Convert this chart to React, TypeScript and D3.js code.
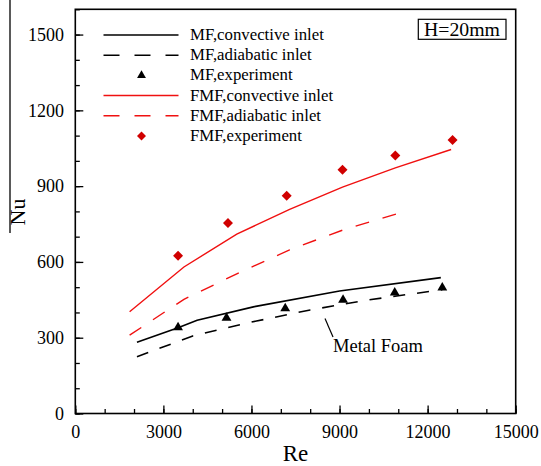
import { useEffect, useRef } from "react";
import * as d3 from "d3";

// values (Re, Nu)
const mf_conv_re = [2100, 3500, 4150, 6100, 9000, 12450];
const mf_conv_nu = [282, 339, 369, 423, 485, 538];
const mf_adia_re = [2100, 4000, 6000, 8000, 10000, 12500];
const mf_adia_nu = [225, 307, 362, 410, 450, 490];
const mf_exp_re = [3500, 5150, 7150, 9120, 10880, 12500];
const mf_exp_nu = [341, 378, 416, 450, 478, 498];
const fmf_conv_re = [1850, 3700, 5500, 7300, 9100, 10900, 12800];
const fmf_conv_nu = [403, 580, 710, 808, 896, 972, 1045];
const fmf_adia_re = [1850, 3700, 5500, 7300, 9200, 11000];
const fmf_adia_nu = [310, 452, 553, 648, 730, 792];
const fmf_exp_re = [3500, 5200, 7200, 9100, 10900, 12850];
const fmf_exp_nu = [624, 754, 862, 965, 1021, 1083];

const legend_labels = [
    "MF,convective inlet",
    "MF,adiabatic inlet",
    "MF,experiment",
    "FMF,convective inlet",
    "FMF,adiabatic inlet",
    "FMF,experiment"
];

const x_ticks = [0, 3000, 6000, 9000, 12000, 15000];
const y_ticks = [0, 300, 600, 900, 1200, 1500];

export default function App() {
    const ref = useRef<SVGSVGElement>(null);

    useEffect(() => {
        const svg = d3.select(ref.current);
        svg.selectAll("*").remove();

        const font = "'Liberation Serif', 'Times New Roman', serif";
        const red = "#f01010";
        const dark_red = "#d00000";

        // scales
        const x_scale = d3.scaleLinear().domain([0, 15000]).range([75.3, 515.7]);
        const y_scale = d3.scaleLinear().domain([0, 1600]).range([413.5, 9.3]);

        // minor ticks
        svg.append("g")
            .attr("transform", "translate(0," + y_scale(0) + ")")
            .call(d3.axisBottom(x_scale).tickValues(d3.range(0, 15001, 1000)).tickSize(-4.5).tickSizeOuter(0).tickFormat(() => ""))
            .call(g => g.select(".domain").remove());
        svg.append("g")
            .attr("transform", "translate(" + x_scale(0) + ",0)")
            .call(d3.axisLeft(y_scale).tickValues(d3.range(0, 1601, 100)).tickSize(-4.5).tickSizeOuter(0).tickFormat(() => ""))
            .call(g => g.select(".domain").remove());

        // major ticks + labels
        const x_axis = svg.append("g")
            .attr("transform", "translate(0," + y_scale(0) + ")")
            .call(d3.axisBottom(x_scale).tickValues(x_ticks).tickSize(-8).tickSizeOuter(0).tickPadding(11.5).tickFormat(d3.format("d")));
        x_axis.select(".domain").remove();
        x_axis.selectAll("text").attr("font-family", font).attr("font-size", 18).attr("fill", "#000");

        const y_axis = svg.append("g")
            .attr("transform", "translate(" + x_scale(0) + ",0)")
            .call(d3.axisLeft(y_scale).tickValues(y_ticks).tickSize(-8).tickSizeOuter(0).tickPadding(11.3).tickFormat(d3.format("d")));
        y_axis.select(".domain").remove();
        y_axis.selectAll("text").attr("font-family", font).attr("font-size", 18).attr("fill", "#000");

        svg.selectAll(".tick line").attr("stroke", "#000").attr("stroke-width", 1.3);

        // frame
        svg.append("rect")
            .attr("x", x_scale(0))
            .attr("y", y_scale(1600))
            .attr("width", x_scale(15000) - x_scale(0))
            .attr("height", y_scale(0) - y_scale(1600))
            .attr("fill", "none")
            .attr("stroke", "#000")
            .attr("stroke-width", 1.6);

        // axis titles
        svg.append("text")
            .attr("x", x_scale(7500))
            .attr("y", 461)
            .attr("text-anchor", "middle")
            .attr("font-family", font)
            .attr("font-size", 23)
            .text("Re");

        svg.append("text")
            .attr("transform", "translate(25,212) rotate(-90)")
            .attr("text-anchor", "middle")
            .attr("font-family", font)
            .attr("font-size", 22)
            .text("Nu");
        svg.append("line")
            .attr("x1", 10).attr("x2", 10)
            .attr("y1", 0).attr("y2", 233)
            .attr("stroke", "#000")
            .attr("stroke-width", 1.3);

        // lines
        const draw_line = (re: number[], nu: number[], color: string, width: number, dash: string | null) => {
            const line = d3.line<number>()
                .x(i => x_scale(re[i]))
                .y(i => y_scale(nu[i]));
            svg.append("path")
                .attr("d", line(d3.range(re.length)))
                .attr("fill", "none")
                .attr("stroke", color)
                .attr("stroke-width", width)
                .attr("stroke-dasharray", dash);
        };
        draw_line(mf_conv_re, mf_conv_nu, "#000", 1.6, null);
        draw_line(mf_adia_re, mf_adia_nu, "#000", 1.6, "12,12");
        draw_line(fmf_conv_re, fmf_conv_nu, red, 1.4, null);
        draw_line(fmf_adia_re, fmf_adia_nu, red, 1.4, "14,14");

        // markers
        const triangle = d3.symbol().type(d3.symbolTriangle).size(42);
        const diamond = d3.symbol().type(d3.symbolSquare).size(50);

        svg.selectAll(".tri")
            .data(d3.range(mf_exp_re.length)).enter()
            .append("path")
            .attr("class", "tri")
            .attr("d", triangle)
            .attr("transform", i => "translate(" + x_scale(mf_exp_re[i]) + "," + y_scale(mf_exp_nu[i]) + ")")
            .attr("fill", "#000");

        svg.selectAll(".dia")
            .data(d3.range(fmf_exp_re.length)).enter()
            .append("path")
            .attr("class", "dia")
            .attr("d", diamond)
            .attr("transform", i => "translate(" + x_scale(fmf_exp_re[i]) + "," + y_scale(fmf_exp_nu[i]) + ") rotate(45)")
            .attr("fill", dark_red);

        // annotation
        svg.append("line")
            .attr("x1", 325).attr("y1", 318.5)
            .attr("x2", 333).attr("y2", 337)
            .attr("stroke", "#000")
            .attr("stroke-width", 1.2);
        svg.append("text")
            .attr("x", 333)
            .attr("y", 351.5)
            .attr("font-family", font)
            .attr("font-size", 18.5)
            .text("Metal Foam");

        // H box
        svg.append("rect")
            .attr("x", 418.3).attr("y", 19.3)
            .attr("width", 87.7).attr("height", 20)
            .attr("fill", "#fff")
            .attr("stroke", "#000")
            .attr("stroke-width", 1.2);
        svg.append("text")
            .attr("x", 462)
            .attr("y", 36)
            .attr("text-anchor", "middle")
            .attr("font-family", font)
            .attr("font-size", 18)
            .attr("textLength", 76)
            .attr("lengthAdjust", "spacingAndGlyphs")
            .text("H=20mm");

        // legend
        const legend = svg.append("g");
        const row_y = (i: number) => 35 + i * 20.2;
        const kinds = [
            { color: "#000", dash: null, mark: null },
            { color: "#000", dash: "16,15", mark: null },
            { color: "#000", dash: null, mark: "tri" },
            { color: red, dash: null, mark: null },
            { color: red, dash: "16,15", mark: null },
            { color: dark_red, dash: null, mark: "dia" }
        ];
        legend_labels.forEach((label, i) => {
            const k = kinds[i];
            if (k.mark === null) {
                legend.append("line")
                    .attr("x1", 103.5).attr("x2", 178.5)
                    .attr("y1", row_y(i)).attr("y2", row_y(i))
                    .attr("stroke", k.color)
                    .attr("stroke-width", 1.5)
                    .attr("stroke-dasharray", k.dash);
            } else {
                legend.append("path")
                    .attr("d", k.mark === "tri" ? d3.symbol().type(d3.symbolTriangle).size(34) : d3.symbol().type(d3.symbolSquare).size(40))
                    .attr("transform", "translate(141.5," + row_y(i) + ")" + (k.mark === "dia" ? " rotate(45)" : ""))
                    .attr("fill", k.color);
            }
            legend.append("text")
                .attr("x", 190)
                .attr("y", row_y(i) + 5)
                .attr("font-family", font)
                .attr("font-size", 16.8)
                .text(label);
        });
    }, []);

    return (
        <svg ref={ref} width={541} height={466}
            style={{ position: "absolute", left: 0, top: 0, background: "#fff" }} />
    );
}
